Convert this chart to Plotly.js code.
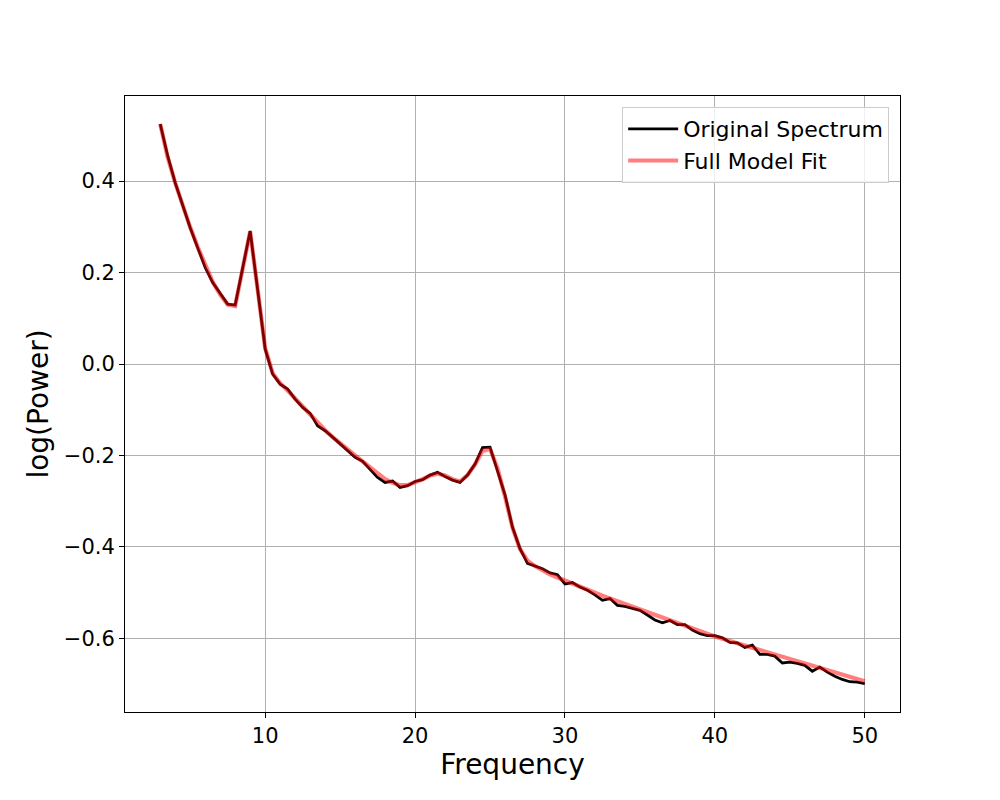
<!DOCTYPE html>
<html>
<head>
<meta charset="utf-8">
<script src="https://cdn.plot.ly/plotly-3.0.1.min.js"></script>
<style>html,body{margin:0;padding:0;background:#fff;}#chart{width:1000px;height:800px;}</style>
</head>
<body>
<div id="chart"></div>
<script>
var freqs = [3,3.5,4,4.5,5,5.5,6,6.5,7,7.5,8,8.5,9,9.5,10,10.5,11,11.5,12,12.5,13,13.5,14,14.5,15,15.5,16,16.5,17,17.5,18,18.5,19,19.5,20,20.5,21,21.5,22,22.5,23,23.5,24,24.5,25,25.5,26,26.5,27,27.5,28,28.5,29,29.5,30,30.5,31,31.5,32,32.5,33,33.5,34,34.5,35,35.5,36,36.5,37,37.5,38,38.5,39,39.5,40,40.5,41,41.5,42,42.5,43,43.5,44,44.5,45,45.5,46,46.5,47,47.5,48,48.5,49,49.5,50];

var originalSpectrum = [0.525,0.455,0.396,0.345,0.298,0.254,0.211,0.178,0.153,0.131,0.129,0.213,0.291,0.162,0.033,-0.022,-0.044,-0.055,-0.077,-0.095,-0.108,-0.135,-0.146,-0.160,-0.175,-0.190,-0.204,-0.213,-0.230,-0.248,-0.259,-0.256,-0.270,-0.266,-0.257,-0.253,-0.243,-0.237,-0.246,-0.254,-0.259,-0.243,-0.219,-0.183,-0.182,-0.232,-0.286,-0.357,-0.404,-0.436,-0.442,-0.448,-0.457,-0.461,-0.481,-0.478,-0.488,-0.495,-0.505,-0.517,-0.513,-0.528,-0.530,-0.535,-0.539,-0.549,-0.560,-0.566,-0.561,-0.570,-0.570,-0.582,-0.590,-0.594,-0.594,-0.599,-0.609,-0.610,-0.620,-0.615,-0.635,-0.635,-0.639,-0.654,-0.652,-0.655,-0.659,-0.672,-0.663,-0.674,-0.683,-0.690,-0.695,-0.696,-0.699];

var modelFit = [0.525,0.452,0.396,0.345,0.299,0.256,0.215,0.180,0.152,0.130,0.127,0.212,0.290,0.163,0.035,-0.020,-0.042,-0.058,-0.076,-0.093,-0.110,-0.130,-0.145,-0.160,-0.174,-0.187,-0.200,-0.213,-0.226,-0.240,-0.252,-0.260,-0.265,-0.265,-0.259,-0.252,-0.244,-0.240,-0.244,-0.252,-0.257,-0.243,-0.220,-0.190,-0.186,-0.228,-0.290,-0.358,-0.405,-0.430,-0.442,-0.452,-0.460,-0.467,-0.474,-0.481,-0.487,-0.494,-0.500,-0.507,-0.513,-0.519,-0.526,-0.532,-0.538,-0.544,-0.550,-0.556,-0.562,-0.568,-0.573,-0.579,-0.585,-0.590,-0.596,-0.601,-0.606,-0.611,-0.616,-0.621,-0.626,-0.631,-0.636,-0.641,-0.646,-0.651,-0.656,-0.660,-0.665,-0.670,-0.675,-0.680,-0.684,-0.689,-0.694];

var xTickVals = [10,20,30,40,50];
var xTickText = ["10","20","30","40","50"];
var yTickVals = [-0.6,-0.4,-0.2,0.0,0.2,0.4];
var yTickText = ["\u22120.6","\u22120.4","\u22120.2","0.0","0.2","0.4"];

var traces = [
  {x: freqs, y: originalSpectrum, type: 'scatter', mode: 'lines', name: 'Original Spectrum',
   line: {color: 'black', width: 2.8}},
  {x: freqs, y: modelFit, type: 'scatter', mode: 'lines', name: 'Full Model Fit',
   line: {color: 'rgba(255,0,0,0.5)', width: 4.2}}
];

var fontFam = 'DejaVu Sans, sans-serif';
var layout = {
  width: 1000, height: 800,
  paper_bgcolor: '#fff', plot_bgcolor: '#fff',
  margin: {l: 125, r: 100, t: 96, b: 88, pad: 0},
  font: {family: fontFam, color: 'black'},
  showlegend: true,
  legend: {x: 0.986, y: 0.982, xanchor: 'right', yanchor: 'top',
    bgcolor: 'rgba(255,255,255,0.8)', bordercolor: '#cccccc', borderwidth: 1,
    itemwidth: 50,
    font: {family: fontFam, size: 22, color: 'black'}, tracegroupgap: 0},
  xaxis: {
    range: [0.65, 52.35], tickvals: xTickVals, ticktext: xTickText,
    showgrid: true, gridcolor: '#b0b0b0', gridwidth: 1, zeroline: false,
    showline: true, linecolor: 'black', linewidth: 1, mirror: true,
    ticks: 'outside', ticklen: 5, tickwidth: 1, tickcolor: 'black',
    tickfont: {family: fontFam, size: 21, color: 'black'},
    title: {text: 'Frequency', font: {family: fontFam, size: 28, color: 'black'}, standoff: 4}
  },
  yaxis: {
    range: [-0.7612, 0.5862], tickvals: yTickVals, ticktext: yTickText,
    showgrid: true, gridcolor: '#b0b0b0', gridwidth: 1, zeroline: false,
    showline: true, linecolor: 'black', linewidth: 1, mirror: true,
    ticks: 'outside', ticklen: 5, tickwidth: 1, tickcolor: 'black',
    tickfont: {family: fontFam, size: 21, color: 'black'},
    title: {text: 'log(Power)', font: {family: fontFam, size: 28, color: 'black'}, standoff: 6}
  }
};

Plotly.newPlot('chart', traces, layout, {staticPlot: true, displayModeBar: false});
</script>
</body>
</html>
